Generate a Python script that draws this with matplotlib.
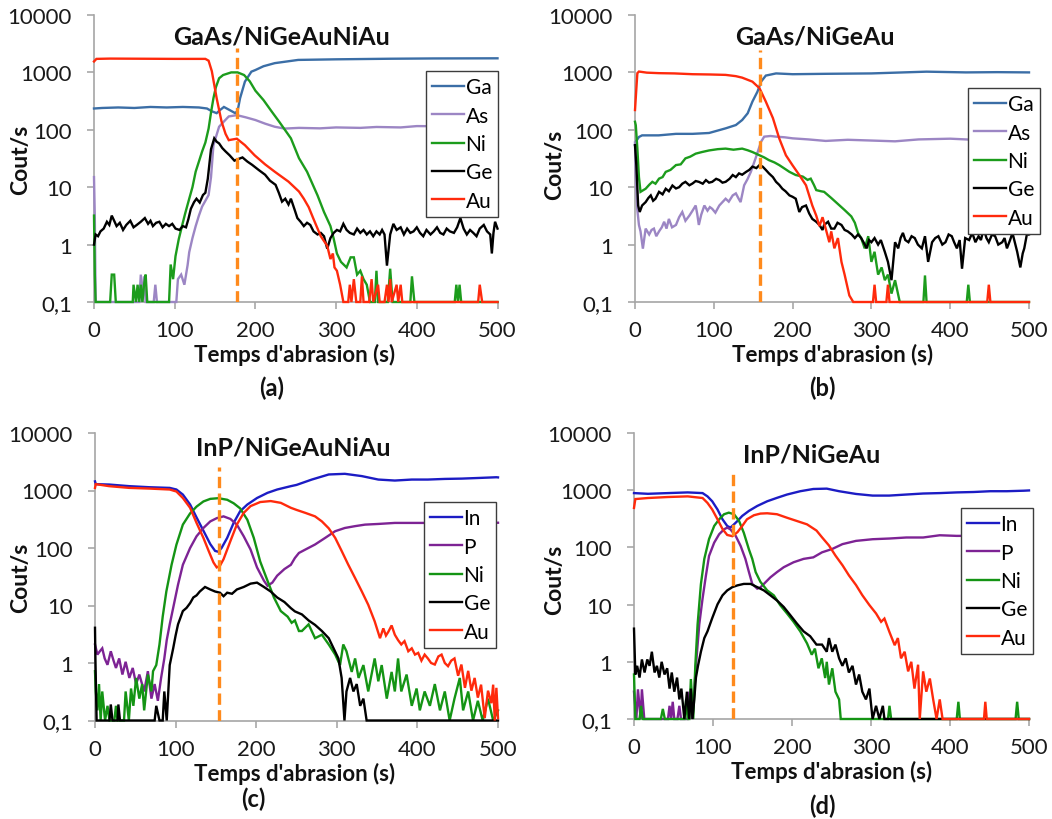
import matplotlib
matplotlib.use("Agg")
import matplotlib.pyplot as plt

plt.rcParams['font.family'] = ['Lato', 'DejaVu Sans']

W, H = 1052, 820

# (a) GaAs/NiGeAuNiAu : (temps d'abrasion s, cout/s)
a_ga = [(0,235),(10,240),(30,245),(50,240),(70,250),(90,245),(110,250),(130,245),(140,235),(146,210),(152,195),(156,220),(161,250),(167,225),(175,195),(178,215),(181,355),(187,690),(195,1030),(200,1100),(210,1280),(224,1450),(253,1650),(300,1690),(367,1730),(420,1750),(500,1760)]
a_as = [(0,15),(1,3),(2,0.1),(56,0.1),(58,0.3),(60,0.1),(62,0.28),(64,0.1),(74,0.1),(76,0.2),(78,0.1),(102,0.1),(104,0.25),(108,0.3),(112,0.2),(116,0.44),(118,0.74),(122,1.3),(126,2.1),(130,3.2),(134,4.6),(142,7.3),(145,15),(148,54),(155,113),(160,135),(167,171),(177,180),(188,165),(200,148),(212,128),(224,113),(236,105),(254,108),(280,106),(300,110),(330,108),(350,112),(380,110),(400,116),(450,115),(500,116)]
a_ni = [(0,3.2),(1,0.3),(2,0.1),(20,0.1),(22,0.3),(25,0.3),(27,0.1),(48,0.1),(49,0.2),(52,0.1),(54,0.2),(56,0.1),(58,0.2),(60,0.1),(62,0.2),(64,0.3),(66,0.1),(93,0.1),(95,0.45),(98,0.25),(101,0.63),(105,1.24),(109,2.1),(113,3.5),(118,6.3),(122,10),(126,18.7),(130,28),(134,42),(138,60),(142,105),(145,200),(148,355),(151,550),(155,790),(160,900),(170,1000),(178,1000),(186,900),(193,700),(200,480),(210,330),(220,210),(230,135),(244,71),(254,32),(264,18.6),(277,7.2),(285,3.7),(293,2.1),(297,1.27),(301,0.7),(306,0.5),(313,0.4),(318,0.6),(322,0.6),(326,0.3),(330,0.35),(334,0.25),(338,0.2),(342,0.1),(348,0.1),(350,0.35),(352,0.1),(364,0.1),(367,0.38),(370,0.1),(392,0.1),(394,0.28),(397,0.1),(447,0.1),(449,0.2),(451,0.1),(453,0.2),(455,0.1),(500,0.1)]
a_ge = [(0,1.0),(2,1.5),(5,1.4),(8,1.7),(12,1.9),(16,2.5),(19,2.2),(22,3.2),(25,2.6),(28,2.1),(32,2.4),(36,1.8),(40,2.2),(45,2.6),(49,2.0),(53,2.2),(58,2.5),(63,2.9),(67,2.3),(70,2.6),(73,2.1),(77,2.4),(81,2.5),(85,2.0),(89,2.3),(93,2.1),(97,2.3),(101,1.9),(106,1.8),(110,2.1),(114,2.0),(117,2.8),(120,4.2),(124,5.5),(127,6.3),(131,5.4),(135,7.3),(138,8),(141,14),(145,46),(149,71),(152,62),(155,58),(159,48),(163,42),(168,36),(174,29),(179,31),(184,33),(190,28),(196,24.5),(204,20),(212,16.5),(218,13),(225,11),(229,8),(233,5.6),(237,6.3),(241,5),(244,6.3),(249,3.9),(252,2.9),(256,2.5),(260,2.1),(264,2.4),(268,2.2),(272,1.7),(277,1.5),(281,1.6),(285,1.4),(289,0.85),(293,1.3),(297,1.6),(301,1.8),(305,1.7),(309,2.3),(313,1.8),(317,1.6),(322,1.5),(326,1.9),(330,1.6),(334,1.8),(338,1.5),(342,1.7),(346,1.4),(350,1.7),(354,1.5),(357,1.8),(360,1.5),(363,0.43),(367,1.5),(371,2.3),(375,1.8),(380,2.0),(384,1.5),(388,1.9),(392,1.6),(396,1.7),(400,2.0),(404,1.6),(408,1.4),(412,1.8),(417,1.5),(421,1.7),(425,2.0),(429,1.6),(433,1.5),(437,1.9),(441,1.7),(446,1.6),(450,2.0),(454,2.9),(458,1.9),(462,1.5),(466,1.8),(470,1.6),(474,1.4),(478,1.9),(483,2.2),(487,1.7),(491,1.5),(493,0.7),(495,1.6),(497,2.5),(500,1.9)]
a_au = [(0,1550),(3,1720),(20,1740),(60,1730),(100,1720),(138,1720),(142,1600),(146,1050),(152,355),(158,140),(163,85),(167,66),(172,68),(177,70),(187,54),(199,36),(212,25),(224,18.6),(241,12.5),(254,8.4),(260,6.3),(266,4.5),(272,2.8),(281,1.4),(286,1.1),(289,0.95),(293,0.56),(296,0.7),(298,0.4),(301,0.35),(305,0.2),(309,0.1),(315,0.1),(317,0.2),(319,0.1),(322,0.25),(325,0.1),(330,0.1),(332,0.28),(334,0.1),(341,0.1),(344,0.25),(346,0.1),(352,0.2),(354,0.1),(360,0.1),(363,0.2),(365,0.1),(367,0.25),(369,0.1),(375,0.2),(377,0.1),(380,0.2),(382,0.1),(476,0.1),(478,0.2),(481,0.1),(500,0.1)]

# (b) GaAs/NiGeAu
b_ga = [(0,55),(2,65),(5,75),(9,80),(30,80),(52,85),(73,85),(94,88),(115,106),(128,121),(136,148),(143,194),(149,310),(155.5,465),(160,690),(166,880),(179,960),(200,930),(242,945),(300,960),(370,1030),(420,1000),(460,1010),(500,1000)]
b_as = [(0,60),(1,15),(3,4),(5,2.2),(7,1.7),(10,0.85),(13.5,1.9),(18,1.5),(21,1.8),(24,1.9),(27,1.4),(30.5,1.7),(34,2.0),(37,2.5),(40,1.9),(43,2.8),(47,2.0),(52,2.2),(56,3.0),(60,3.7),(64,2.6),(69,3.2),(73,3.9),(77,4.8),(79,3.4),(81,2.2),(84,3.3),(88,4.8),(92,3.9),(95,4.5),(98,4.2),(102,3.6),(107,4.8),(111,5.5),(115,6.3),(119,5.6),(124,7.2),(128,7.8),(131,6.5),(134,5.5),(138.5,10.8),(143,14),(147,18.5),(153,31.8),(160,62),(164,76),(172,78),(179,76),(190,74),(200,71),(220,68),(242,64),(270,67),(300,65),(330,63),(360,68),(400,70),(430,67),(500,68)]
b_ni = [(0,138),(1,120),(3,47),(5,15),(7,8.3),(10,8.8),(13.5,9.4),(18,11),(22,12.4),(26,11.5),(30.5,14.1),(35,15),(39,18.5),(45,20),(52,24.3),(58,25),(64,31.8),(70,34),(77,38.4),(85,41),(94,43.7),(105,46),(115,47),(125,45),(136,47),(143,44),(149,41),(158,36),(164,33),(170,29.6),(177,27),(183,24.3),(190,21),(196,18.5),(204,16.3),(213,15.3),(219,13.4),(223,14.1),(227,11),(230,8.9),(236,8.5),(240,8.3),(249,6.5),(257.5,5.1),(266,4.0),(274.5,3.1),(279,2.4),(283,1.6),(287,1.3),(291.5,0.86),(296,1.4),(300,0.5),(304,0.75),(308.5,0.3),(313,0.4),(317,0.24),(321,0.3),(325.5,0.14),(330,0.24),(336,0.1),(366,0.1),(368,0.29),(370,0.1),(421,0.1),(423,0.2),(425,0.1),(500,0.1)]
b_ge = [(0,54),(1.7,24),(4,4.8),(6,3.7),(9,4.8),(13.5,5.5),(17,6.5),(20,7.2),(23,5.8),(26,6.3),(30.5,8.3),(35,7.5),(39,9.4),(43,8.5),(47.5,10.7),(52,9.5),(56,10),(60,11.5),(64,12.4),(69,10.8),(73,11.6),(77,12.8),(81,12.4),(86,11.5),(90,13.3),(94,12),(98,12.4),(103,14),(107,13.3),(111,12),(115,12.4),(120,14),(124,16.3),(128,15),(132,17.4),(136,16.5),(141,18.5),(145,20),(149,22.8),(154,21.5),(158,24.3),(162,22.8),(166,20),(170,17.4),(175,15),(179,12.4),(183,11),(187,9.4),(191,8.5),(196,7.2),(200,6.8),(204,6.3),(208.5,3.7),(212,4.5),(217,4.8),(221,3.5),(225,2.8),(230,2.5),(234,2.2),(238,1.8),(240,2.2),(245,2.5),(249,1.9),(253,1.9),(257,2.4),(262,2.2),(266,1.8),(270,1.7),(275,1.5),(279,1.3),(283,1.5),(287,1.3),(290,1.1),(294,0.86),(297,1.2),(300,1.1),(304,1.3),(308.5,1.0),(312,1.2),(317,0.75),(321,0.5),(325.5,0.24),(330,1.1),(334,0.86),(337,1.3),(340,1.6),(343,1.2),(347,1.1),(351,1.4),(355,1.3),(359,1.0),(364,0.86),(368,1.4),(372,0.5),(377,1.1),(381,1.3),(385,1.4),(390,1.0),(394,1.1),(398,1.5),(402,1.4),(405,1.1),(408.5,0.86),(412,1.2),(415,0.38),(419,1.3),(424,1.2),(428,1.6),(432,1.1),(436,1.4),(439,1.2),(442.5,1.9),(446,1.3),(449,1.1),(453,1.5),(457,1.4),(461,1.0),(466,1.1),(469,1.3),(472,0.86),(476,1.2),(479,1.6),(482,1.1),(485,0.75),(489,0.4),(492,0.7),(494,0.86),(498,1.7),(500,1.5)]
b_au = [(0,221),(2,600),(3,970),(5,1035),(15,990),(30.5,970),(50,960),(73,930),(95,920),(115,905),(128,860),(136,810),(149,690),(158,530),(166,310),(175,160),(183,71),(191.5,36),(200,24),(208.5,16.3),(217,10.8),(225,4.8),(230,3.2),(234,2.1),(238,3.0),(242,1.9),(246.6,1.1),(249,1.7),(253,0.86),(257.5,1.3),(262,0.5),(266,0.3),(272,0.13),(277,0.1),(302,0.1),(304,0.2),(306,0.1),(319,0.1),(321,0.2),(323,0.1),(447,0.1),(449,0.2),(451,0.1),(500,0.1)]

# (c) InP/NiGeAuNiAu
c_in = [(0,1440),(1,1290),(17.5,1270),(42.5,1190),(67.6,1140),(92.7,1110),(101,1040),(109,850),(118,570),(126,340),(134.5,200),(143,117),(149,89),(153,86),(157,100),(164,150),(172,273),(180,435),(189,570),(201,740),(214,910),(226,1040),(243,1190),(250,1250),(269,1550),(290,1900),(310,1950),(331,1780),(351.5,1550),(372,1490),(393,1550),(413,1550),(434,1590),(455,1610),(475,1650),(498,1700),(500,1690)]
c_p = [(0,2.1),(3,1.4),(6,1.6),(9,1.8),(12,1.2),(15.5,0.93),(19.6,1.6),(23,1.1),(26,0.82),(30,1.2),(34,0.63),(38,1.05),(42.6,0.55),(46.8,0.82),(51,0.43),(55,0.63),(61,0.32),(65.6,0.72),(70,0.24),(74,0.43),(78,0.22),(82,0.55),(86,1.2),(89,2.5),(92.7,4.7),(97,9.1),(103,23),(109,51),(118,100),(126,160),(134.5,223),(143,290),(151,330),(159.5,355),(168,320),(176,255),(184.5,160),(193,94),(201,46),(209.6,27),(214,22),(220,25),(226,33),(235,43),(243,51),(248,67),(253,82),(261,94),(273,115),(285.6,150),(298,196),(310,223),(322.7,240),(335,255),(351.5,262),(372,273),(393,273),(409,273),(450,270),(500,275)]
c_ni = [(0,0.72),(1,0.32),(3,0.15),(5,0.43),(7,0.1),(9,0.32),(12.5,0.1),(15.5,0.18),(18,0.1),(24,0.1),(26,0.18),(28,0.1),(36,0.1),(38,0.32),(42,0.1),(44.7,0.36),(47.6,0.18),(51,0.55),(55,0.24),(58.5,0.43),(61,0.15),(65.6,0.63),(70,0.32),(72,0.72),(76,0.92),(80,2.1),(84,6.4),(88.5,17.5),(95,51),(101,114),(109,255),(118,400),(126,525),(134.5,645),(143,715),(153,735),(164,690),(172,600),(180,490),(189,310),(197,150),(205,58),(214,27),(222,13.8),(230.5,8.0),(239,6.4),(244,5.0),(248,5.5),(253,3.6),(256.7,3.6),(265,4.7),(273,2.7),(281.5,3.1),(290,2.1),(298,1.4),(304,0.92),(308,2.1),(312,1.6),(318.5,0.7),(322.7,1.2),(327,0.55),(333,0.92),(339,0.32),(347,1.2),(351.5,0.48),(355.7,0.92),(362,0.24),(368,0.7),(372,0.32),(376,1.2),(380,0.32),(386.6,0.63),(393,0.18),(399,0.36),(403,0.15),(409,0.32),(415.5,0.18),(421.6,0.43),(428,0.15),(434,0.32),(440,0.1),(446,0.24),(452.6,0.55),(456.7,0.15),(463,0.32),(469,0.1),(475,0.22),(481,0.1),(487.6,0.24),(494,0.1),(500,0.15)]
c_ge = [(0,4.1),(0.5,1.2),(2,0.1),(18,0.1),(19.6,0.19),(21.7,0.1),(28,0.1),(29,0.19),(31,0.1),(74,0.1),(76,0.18),(80,0.1),(84,0.1),(86,0.32),(89,0.1),(92.7,0.92),(97,1.8),(100,3.0),(103,4.7),(109,8.0),(113.6,9.1),(118,11),(122,13.8),(126,15),(130,17.5),(136.5,21),(143,19),(149,17.5),(155,16.7),(159.5,14.5),(164,16.7),(170,16),(176,19),(184.5,21),(193,24),(201,25),(209.6,21),(218,17.5),(226,13.8),(235,11.5),(243,9.0),(248,7.9),(256.7,7.0),(265,5.5),(273,4.6),(281.5,3.6),(290,2.7),(296,1.8),(302,1.2),(306,0.55),(309.5,0.1),(312,0.32),(316.5,0.55),(320.6,0.32),(324.7,0.43),(329,0.18),(333,0.24),(337,0.1),(500,0.1)]
c_au = [(0,1110),(1,1290),(17.5,1190),(42.5,1110),(67.6,1080),(92.7,1040),(101,960),(109,740),(118,500),(126,273),(134.5,150),(141,89),(147,56),(151,46),(155,49),(159.5,64),(168,132),(176,256),(184.5,408),(193,535),(205,630),(218,655),(230.5,610),(243,500),(250,460),(261,408),(273,355),(281.5,290),(290,220),(298,150),(306,89),(314,52),(322.7,30),(331,17.6),(339,10.3),(347,5.3),(353.6,2.7),(357.7,4.0),(361,3.0),(364,3.5),(368,4.5),(372,3.1),(376,2.5),(380,2.1),(384,2.4),(388.7,1.6),(393,1.8),(397,1.4),(401,1.5),(405,1.1),(409,1.4),(413,1.2),(417,1.0),(421.6,0.94),(426,1.3),(430,1.4),(434,1.0),(438,0.88),(442,1.1),(446,1.2),(450.5,0.6),(454.6,0.94),(459,0.37),(463,0.73),(467,0.33),(471,0.55),(475,0.25),(479,0.42),(483.5,0.11),(487.6,0.33),(491.8,0.2),(494,0.42),(496,0.1),(498,0.37),(500,0.11)]

# (d) InP/NiGeAu
d_in = [(0,890),(17.6,865),(42.8,890),(68,915),(86.8,890),(93,780),(99,640),(105.7,460),(112,310),(118,237),(122,222),(126.6,253),(131,290),(137,355),(145.5,435),(156,530),(168.6,640),(181,735),(193.7,840),(210.5,960),(227,1050),(244,1065),(259.6,960),(281,860),(302,805),(323,805),(344.7,840),(366,875),(387,890),(408.5,915),(430,930),(451,960),(472,960),(493.6,980),(500,990)]
d_p = [(0,0.3),(3,0.1),(5,0.33),(8.4,0.1),(10,0.33),(13,0.1),(43,0.1),(45,0.17),(47,0.1),(49,0.2),(51,0.1),(55,0.1),(57.4,0.17),(59.5,0.1),(68,0.1),(70,0.3),(74,0.1),(78.4,0.86),(82.6,4.5),(86.8,12.8),(91,32),(95,71),(101.5,121),(107.8,170),(114,207),(118,222),(122,207),(128.7,159),(135,106),(141,63),(145.5,37),(149.7,23),(156,19),(160,20),(164.4,23),(172.7,30),(181,37),(189.5,45),(202,55),(214.7,63),(227,67),(238,82),(251,94),(263.8,114),(281,130),(302,139),(323.4,143),(344.7,149),(366,149),(387,163),(408.5,159),(450,160),(500,165)]
d_ni = [(0,0.6),(1.7,0.1),(7,0.1),(9,0.17),(11,0.1),(34,0.1),(36.5,0.15),(39,0.1),(64,0.1),(66,0.22),(68,0.1),(70,0.1),(72,0.5),(75,0.1),(77.6,0.86),(80.5,4.5),(84.7,22.8),(89,63),(95,140),(101.5,237),(107.8,310),(114,380),(120,405),(126.6,380),(133,290),(139,180),(145.5,92),(149.7,63),(154,37),(160,25),(168.6,17.7),(177,14.5),(185,9.8),(193.7,7.0),(202,5.0),(210.5,3.4),(219,2.1),(225,1.33),(229,1.7),(233.5,0.77),(237.7,1.15),(242,0.52),(244,1.0),(246.8,0.4),(251,0.77),(255,0.3),(259.6,0.22),(261.7,0.1),(321.5,0.1),(323.4,0.17),(325.5,0.1),(408.5,0.1),(410.6,0.2),(412.5,0.1),(483,0.1),(485,0.2),(487,0.1),(500,0.1)]
d_ge = [(0,3.8),(1.7,0.6),(4,0.85),(7,0.53),(10,1.1),(13.4,0.65),(16.8,1.1),(19.7,0.85),(22.6,1.5),(26,0.65),(29,0.85),(32,0.53),(35,1.0),(38.6,0.6),(42,0.77),(45,0.34),(47.8,0.65),(51,0.3),(54.5,0.53),(57.4,0.22),(60,0.34),(63.7,0.1),(67,0.3),(70,0.1),(72,0.34),(74,0.1),(76.3,0.22),(78.4,0.53),(81,0.85),(84.7,1.5),(89,2.6),(93,3.4),(99,5.8),(105.7,10.1),(112,14.5),(118,17.7),(124.5,20.2),(131,21.7),(139,23),(147.6,23),(156,20.2),(164.4,17.7),(172.7,14.5),(181,11.8),(189.5,9.1),(198,6.5),(206,4.7),(214.7,3.4),(223,2.8),(231,2.0),(238,2.0),(244,1.5),(246.8,2.6),(251,1.5),(255,2.0),(259.6,1.15),(263.8,0.85),(268,1.15),(272,0.65),(276.6,0.85),(281,0.4),(285,0.6),(289,0.3),(293.6,0.22),(298,0.34),(302,0.1),(306.4,0.17),(310.6,0.1),(315,0.17),(317,0.1),(500,0.1)]
d_au = [(0,490),(1.7,700),(17.6,730),(42.8,760),(68,780),(86.8,730),(93,600),(99,460),(105.7,310),(112,210),(118,165),(124.5,157),(131,185),(137,237),(143,310),(151.8,365),(160,390),(168.6,395),(181,380),(193.7,330),(206,290),(219,253),(231,197),(238,150),(246.8,108),(255,72),(264,48.5),(272,32.5),(281,22),(289,14.6),(298,9.8),(306.4,7.0),(312.8,5.0),(317,5.7),(323.4,3.3),(330,1.95),(334,2.6),(338,1.15),(342.6,1.5),(347,0.68),(351,1.0),(355,0.34),(359.6,0.89),(361.7,0.1),(366,0.68),(370,0.3),(374.5,0.51),(378.7,0.22),(383,0.1),(387,0.22),(390.6,0.1),(443,0.1),(444.7,0.2),(446.5,0.1),(500,0.1)]

titles = ['GaAs/NiGeAuNiAu', 'GaAs/NiGeAu', 'InP/NiGeAuNiAu', 'InP/NiGeAu']
sublabels = ['(a)', '(b)', '(c)', '(d)']
names_gaas = ['Ga', 'As', 'Ni', 'Ge', 'Au']
names_inp = ['In', 'P', 'Ni', 'Ge', 'Au']
interface_t = [177, 158, 154, 125]
interface_top = [2650, 2480, 2520, 2340]
y_ticks = [0.1, 1, 10, 100, 1000, 10000]
y_ticklabels = ['0,1', '1', '10', '100', '1000', '10000']
x_ticks = [0, 100, 200, 300, 400, 500]

col_gaas = ['#3b6ea6', '#9c86c4', '#1c9c1c', '#000000', '#ff2a0c']
col_inp = ['#1c1cc4', '#7d2394', '#149414', '#000000', '#ff2a0c']

panels = [
    dict(series=[a_ga, a_as, a_ni, a_ge, a_au], names=names_gaas, colors=col_gaas,
         rect=(94, 16, 497.5, 303), title_xy=(281, 37), leg_xy=(426, 72),
         sub_xy=(272, 388), ylab_xy=(21, 160), xlab_xy=(295, 355)),
    dict(series=[b_ga, b_as, b_ni, b_ge, b_au], names=names_gaas, colors=col_gaas,
         rect=(635, 16, 1029, 303), title_xy=(815, 37), leg_xy=(968, 89),
         sub_xy=(822, 388), ylab_xy=(555, 165), xlab_xy=(833, 355)),
    dict(series=[c_in, c_p, c_ni, c_ge, c_au], names=names_inp, colors=col_inp,
         rect=(95, 434, 498, 721.5), title_xy=(293, 448), leg_xy=(424, 503),
         sub_xy=(253, 799), ylab_xy=(21, 578), xlab_xy=(295, 774)),
    dict(series=[d_in, d_p, d_ni, d_ge, d_au], names=names_inp, colors=col_inp,
         rect=(634, 434, 1029, 720), title_xy=(812, 455), leg_xy=(961, 509),
         sub_xy=(822, 806), ylab_xy=(555, 580), xlab_xy=(832, 772)),
]

fig = plt.figure(figsize=(W / 100, H / 100), dpi=100)


def fx(px):
    return px / W


def fy(py):
    return 1 - py / H


for i, p in enumerate(panels):
    x0, y0, x1, y1 = p['rect']
    ax = fig.add_axes([fx(x0), fy(y1), (x1 - x0) / W, (y1 - y0) / H])
    for data, name, col in zip(p['series'], p['names'], p['colors']):
        t = [d[0] for d in data]
        v = [d[1] for d in data]
        ax.plot(t, v, color=col, lw=1.7, label=name, zorder=3, clip_on=False,
                solid_joinstyle='miter')
    ax.vlines(interface_t[i], 0.1, interface_top[i], colors='#ff8a1c', lw=2.4,
              linestyles=(0, (3.4, 1.6)), zorder=4)
    ax.set_yscale('log')
    ax.set_xlim(0, 500)
    ax.set_ylim(0.1, 10000)
    ax.set_yticks(y_ticks)
    ax.set_yticklabels(y_ticklabels)
    ax.minorticks_off()
    ax.set_xticks(x_ticks)
    ax.tick_params(axis='both', labelsize=16, colors='#a0a0a0', labelcolor='#1a1a1a',
                   length=5, width=1.1, direction='out')
    ax.tick_params(axis='y', pad=11)
    ax.tick_params(axis='x', pad=8)
    for s in ['top', 'right']:
        ax.spines[s].set_visible(False)
    for s in ['left', 'bottom']:
        ax.spines[s].set_color('#a6a6a6')
        ax.spines[s].set_linewidth(1.2)

    leg = ax.legend(loc='upper left', bbox_to_anchor=(fx(p['leg_xy'][0]), fy(p['leg_xy'][1])),
                    bbox_transform=fig.transFigure, fontsize=15, frameon=True, fancybox=False,
                    framealpha=1, edgecolor='#3c3c3c', handlelength=1.5, handletextpad=0.1,
                    labelspacing=0.4, borderpad=0.3, borderaxespad=0)
    leg.get_frame().set_linewidth(1.0)
    leg.set_zorder(10)

    fig.text(fx(p['title_xy'][0]), fy(p['title_xy'][1]), titles[i], ha='center', va='center',
             fontsize=18, fontweight='bold', color='#111111')
    fig.text(fx(p['ylab_xy'][0]), fy(p['ylab_xy'][1]), 'Cout/s', ha='center', va='center',
             rotation=90, fontsize=16.5, fontweight='bold', color='#111111')
    fig.text(fx(p['xlab_xy'][0]), fy(p['xlab_xy'][1]), "Temps d'abrasion (s)", ha='center',
             va='center', fontsize=16, fontweight='bold', color='#111111')
    fig.text(fx(p['sub_xy'][0]), fy(p['sub_xy'][1]), sublabels[i], ha='center', va='center',
             fontsize=17, fontweight='bold', color='#111111')

fig.savefig('out.png', dpi=100, facecolor='white')
